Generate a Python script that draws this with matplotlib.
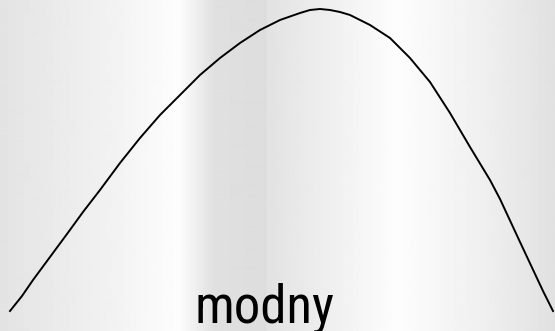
import numpy as np
import matplotlib
matplotlib.use("Agg")
import matplotlib.pyplot as plt

# curve points (pixel space, y down)
curve_x = [10, 22, 33, 50, 67, 83, 100, 120, 140, 160, 180, 200, 220, 240,
           260, 280, 300, 310, 320, 330, 340, 350, 370, 390, 410, 430, 450,
           470, 490, 500, 520, 543, 553]
curve_y = [311, 296, 280, 257, 234, 212, 190, 163, 138, 115, 95, 75, 58, 43,
           30, 20, 13, 10, 9, 10, 12, 15, 25, 38, 58, 82, 113,
           147, 180, 199, 242, 291, 311]

label = "modny"

# background shading stops (x position, grey level)
bg_x = [0, 100, 180, 215, 266, 268, 285, 398, 480, 555]
bg_v = [227, 240, 253, 224, 221, 226, 230, 253, 240, 225]

fig = plt.figure(figsize=(5.55, 3.31), dpi=100)
ax = fig.add_axes([0, 0, 1, 1])

cols = np.arange(555) + 0.5
grey = np.interp(cols, bg_x, bg_v) / 255.0
img = np.repeat(grey[None, :], 2, axis=0)
ax.imshow(img, cmap="gray", vmin=0, vmax=1, aspect="auto",
          extent=(0, 555, 331, 0), interpolation="bilinear")

ax.plot(curve_x, curve_y, color="black", lw=1.4, solid_joinstyle="round")

ax.text(265, 322, label, ha="center", va="baseline", fontsize=38,
        family=["Liberation Sans Narrow", "Roboto Condensed", "DejaVu Sans"],
        fontstretch="condensed", color="black")

ax.set_xlim(0, 555)
ax.set_ylim(331, 0)
ax.axis("off")

fig.savefig("out.png", dpi=100)
